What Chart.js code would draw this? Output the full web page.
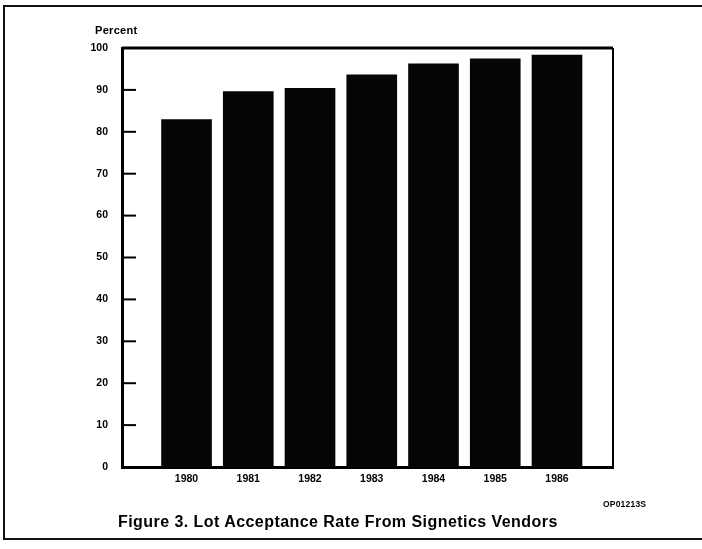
<!DOCTYPE html>
<html>
<head>
<meta charset="utf-8">
<script src="https://cdn.jsdelivr.net/npm/chart.js@4"></script>
<style>
  html, body { margin: 0; padding: 0; background: #fff; }
  #wrap { position: relative; width: 702px; height: 549px; overflow: hidden; font-family: "Liberation Sans", Arial, sans-serif; }
  #frame { position: absolute; left: 3px; top: 5px; width: 710px; height: 531px; border-top: 2px solid #111; border-left: 2px solid #111; border-bottom: 2px solid #111; }
  canvas { position: absolute; left: 0; top: 0; }
  .lbl { position: absolute; font-weight: bold; color: #000; white-space: nowrap; }
  #ytitle { left: 95px; top: 24px; font-size: 11px; letter-spacing: 0.3px; }
  #code { left: 603px; top: 499px; font-size: 8.5px; letter-spacing: 0.2px; }
  #caption { left: 118px; top: 513px; font-size: 16px; letter-spacing: 0.45px; }
</style>
</head>
<body>
<div id="wrap">
  <div id="frame"></div>
  <canvas id="chart" width="702" height="549"></canvas>
  <div class="lbl" id="ytitle">Percent</div>
  <div class="lbl" id="code">OP01213S</div>
  <div class="lbl" id="caption">Figure 3. Lot Acceptance Rate From Signetics Vendors</div>
</div>
<script>
const years = [1980, 1981, 1982, 1983, 1984, 1985, 1986];
const acceptance = [82.9, 89.6, 90.4, 93.6, 96.2, 97.4, 98.3];
const yTicks = [0, 10, 20, 30, 40, 50, 60, 70, 80, 90, 100];

// box round the plot and short ticks pointing inward from the y axis
const framePlugin = {
  id: "frame",
  afterDraw(chart) {
    const { ctx, chartArea } = chart;
    const y = chart.scales.y;
    ctx.save();
    ctx.strokeStyle = "#000";
    ctx.lineWidth = 3;
    ctx.beginPath();
    ctx.moveTo(chartArea.left, chartArea.top);
    ctx.lineTo(chartArea.right, chartArea.top);
    ctx.stroke();
    ctx.lineWidth = 2;
    ctx.beginPath();
    ctx.moveTo(chartArea.right, chartArea.top);
    ctx.lineTo(chartArea.right, chartArea.bottom);
    ctx.stroke();
    yTicks.slice(1, -1).forEach(v => {
      const py = y.getPixelForValue(v);
      ctx.beginPath();
      ctx.moveTo(chartArea.left, py);
      ctx.lineTo(chartArea.left + 14, py);
      ctx.stroke();
    });
    ctx.restore();
  }
};

new Chart(document.getElementById("chart"), {
  type: "bar",
  data: {
    datasets: [{
      data: years.map((yr, i) => ({ x: yr, y: acceptance[i] })),
      backgroundColor: "#050505",
      borderWidth: 0,
      barThickness: 50
    }]
  },
  options: {
    responsive: false,
    animation: false,
    layout: { padding: { left: 0, top: 48, right: 89, bottom: 0 } },
    plugins: { legend: { display: false }, tooltip: { enabled: false } },
    scales: {
      x: {
        type: "linear",
        offset: false,
        min: 1978.955,
        max: 1986.907,
        grid: { display: false, drawTicks: false, offset: false },
        border: { display: true, color: "#000", width: 3 },
        afterFit(scale) { scale.height = 82; },
        ticks: {
          stepSize: 1,
          includeBounds: false,
          autoSkip: false,
          maxRotation: 0,
          padding: 6,
          color: "#000",
          font: { family: "Liberation Sans", weight: "bold", size: 10.5 },
          callback: v => years.includes(v) ? String(v) : ""
        }
      },
      y: {
        min: 0,
        max: 100,
        grid: { display: false, drawTicks: false },
        border: { display: true, color: "#000", width: 3 },
        afterFit(scale) { scale.width = 122; },
        afterBuildTicks(scale) { scale.ticks = yTicks.map(v => ({ value: v })); },
        ticks: {
          padding: 14,
          color: "#000",
          font: { family: "Liberation Sans", weight: "bold", size: 10.5 }
        }
      }
    }
  },
  plugins: [framePlugin]
});
</script>
</body>
</html>
